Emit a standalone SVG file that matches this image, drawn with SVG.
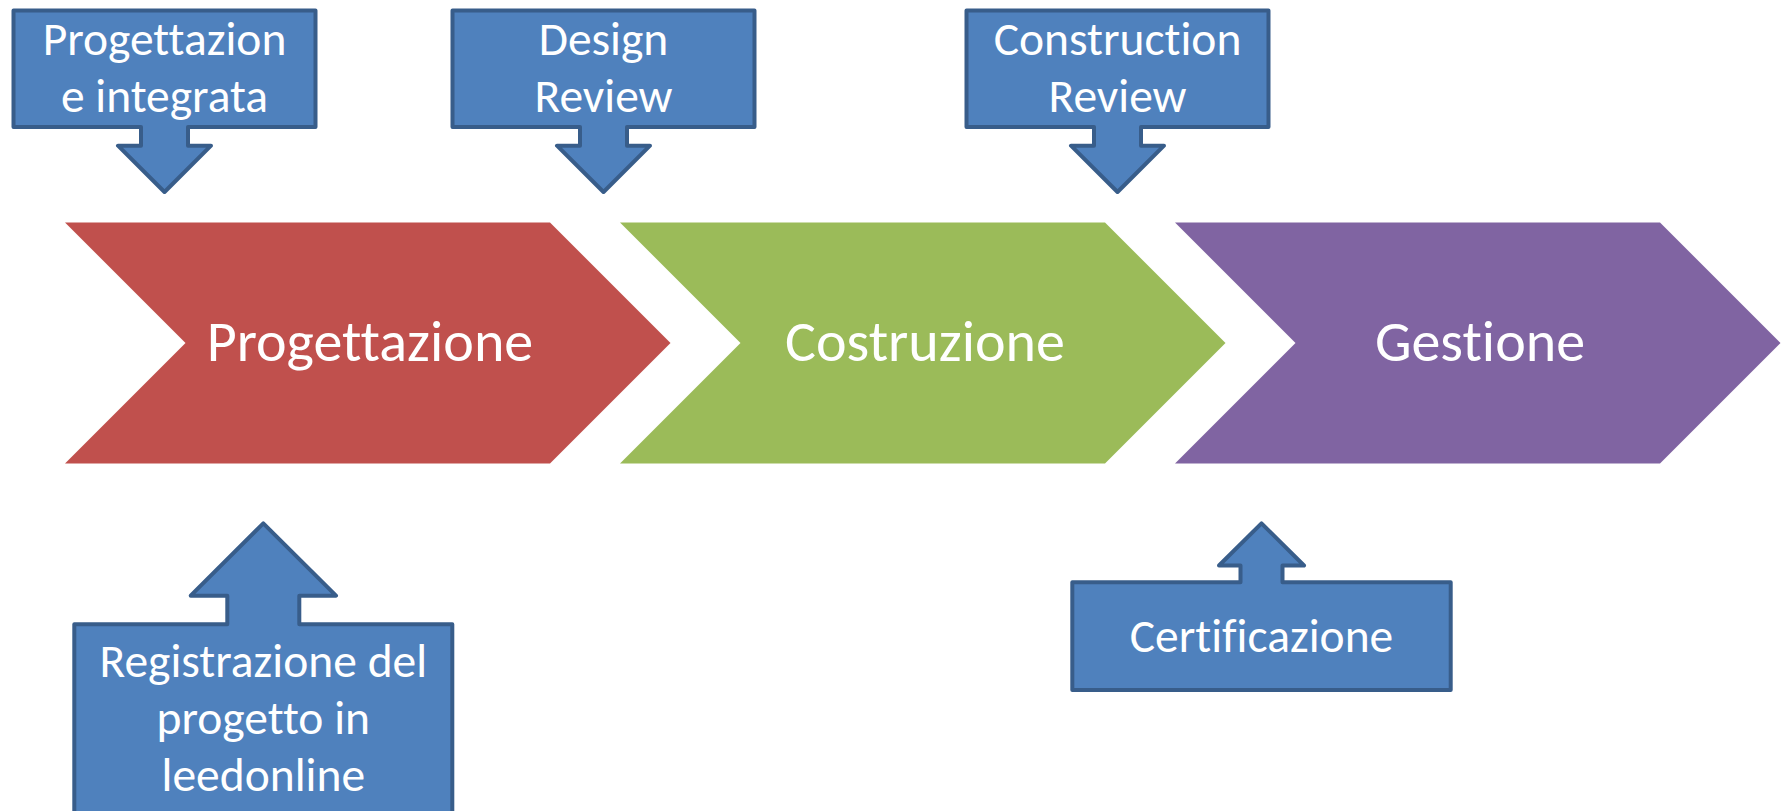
<svg xmlns="http://www.w3.org/2000/svg" width="1785" height="811" viewBox="0 0 1785 811">
<style>
.chev{stroke:none}
.call{fill:#4F81BD;stroke:#385D8A;stroke-width:4;stroke-linejoin:round}
.ct{font-family:Carlito,Lato,"Open Sans",sans-serif;font-size:47.5px;fill:#FFFFFF;text-anchor:middle;font-variant-ligatures:none;font-feature-settings:"liga" 0,"clig" 0}
.ht{font-family:Carlito,Lato,"Open Sans",sans-serif;font-size:58px;fill:#FFFFFF;text-anchor:middle;font-variant-ligatures:none;font-feature-settings:"liga" 0,"clig" 0}
</style>
<rect width="1785" height="811" fill="#FFFFFF"/>
<g id="connectors"></g>
<g id="stage-progettazione">
<polygon class="chev" fill="#C0504D" points="65,222.5 550,222.5 670.5,343 550,463.5 65,463.5 185.5,343"/>
<text class="ht" x="370" y="361">Progettazione</text>
</g>
<g id="stage-costruzione">
<polygon class="chev" fill="#9BBB59" points="620,222.5 1105,222.5 1225.5,343 1105,463.5 620,463.5 740.5,343"/>
<text class="ht" x="925" y="361">Costruzione</text>
</g>
<g id="stage-gestione">
<polygon class="chev" fill="#8064A2" points="1175,222.5 1660,222.5 1780.5,343 1660,463.5 1175,463.5 1295.5,343"/>
<text class="ht" x="1480" y="361">Gestione</text>
</g>
<g id="callout-progettazione-integrata">
<path class="call" d="M13.5,10.5 H315.5 V127 H188 V145.7 H211 L164.5,192 L118,145.7 H141 V127 H13.5 Z"/>
<text class="ct" x="164.5" y="55">Progettazion</text>
<text class="ct" x="164.5" y="111.7">e integrata</text>
</g>
<g id="callout-design-review">
<path class="call" d="M452.5,10.5 H754.5 V127 H627 V145.7 H650 L603.5,192 L557,145.7 H580 V127 H452.5 Z"/>
<text class="ct" x="603.5" y="55">Design</text>
<text class="ct" x="603.5" y="111.7">Review</text>
</g>
<g id="callout-construction-review">
<path class="call" d="M966.5,10.5 H1268.5 V127 H1141 V145.7 H1164 L1117.5,192 L1071,145.7 H1094 V127 H966.5 Z"/>
<text class="ct" x="1117.5" y="55">Construction</text>
<text class="ct" x="1117.5" y="111.7">Review</text>
</g>
<g id="callout-registrazione">
<path class="call" d="M74.3,624.3 H227.3 V595.7 H190.7 L263.3,523.3 L336,595.7 H299.3 V624.3 H452.3 V815 H74.3 Z"/>
<text class="ct" x="263.3" y="676.7">Registrazione del</text>
<text class="ct" x="263.3" y="733.7">progetto in</text>
<text class="ct" x="263.3" y="790.7">leedonline</text>
</g>
<g id="callout-certificazione">
<path class="call" d="M1072.3,582.3 H1240.5 V565.5 H1219 L1261.5,523.3 L1304,565.5 H1282.5 V582.3 H1450.7 V690 H1072.3 Z"/>
<text class="ct" x="1261.5" y="651.7">Certificazione</text>
</g>
</svg>
